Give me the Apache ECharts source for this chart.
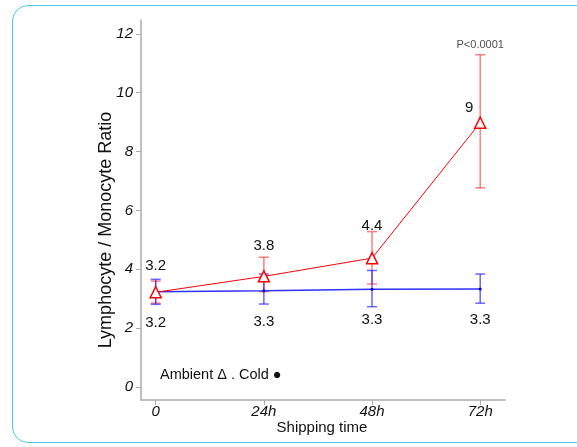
<!DOCTYPE html>
<html>
<head>
<meta charset="utf-8">
<script src="https://cdn.jsdelivr.net/npm/echarts@6/dist/echarts.min.js"></script>
<style>
html,body{margin:0;padding:0;background:#fff;}
#frame{position:absolute;left:12px;top:5px;width:580px;height:438px;border:1.5px solid #4fc6f2;border-radius:16px;box-sizing:border-box;}
#chart{position:absolute;left:0;top:0;width:577px;height:447px;}
</style>
</head>
<body>
<div id="frame"></div>
<div id="chart"></div>
<script>
// Data
const hours = [0, 24, 48, 72];
const xTickLabels = ['0', '24h', '48h', '72h'];
const yTicks = [0, 2, 4, 6, 8, 10, 12];
const ambientMean = [3.22, 3.76, 4.38, 8.98];
const ambientLow  = [2.85, 3.24, 3.50, 6.77];
const ambientHigh = [3.60, 4.41, 5.28, 11.29];
const ambientLabels = ['3.2', '3.8', '4.4', '9'];
const coldMean = [3.24, 3.27, 3.32, 3.33];
const coldLow  = [2.81, 2.82, 2.73, 2.85];
const coldHigh = [3.66, 3.84, 3.96, 3.84];
const coldLabels = ['3.2', '3.3', '3.3', '3.3'];
const pValueText = 'P<0.0001';

const FONT = '"Liberation Sans", Arial, sans-serif';

const ambientLabelOffsets = [[0, -8], [0, -12], [0, -14], [-11, 4]];

function errData(low, high) {
  return hours.map((h, i) => [h, low[i], high[i]]);
}
function errRender(color) {
  return function (params, api) {
    const x = api.value(0);
    const lo = api.coord([x, api.value(1)]);
    const hi = api.coord([x, api.value(2)]);
    const w = 5;
    const style = { stroke: color, lineWidth: 1.5, fill: null };
    return {
      type: 'group',
      children: [
        { type: 'line', shape: { x1: lo[0], y1: lo[1], x2: hi[0], y2: hi[1] }, style },
        { type: 'line', shape: { x1: lo[0] - w, y1: lo[1], x2: lo[0] + w, y2: lo[1] }, style },
        { type: 'line', shape: { x1: hi[0] - w, y1: hi[1], x2: hi[0] + w, y2: hi[1] }, style }
      ]
    };
  };
}

const chart = echarts.init(document.getElementById('chart'));
chart.setOption({
  animation: false,
  grid: { left: 141, right: 72, top: 20, bottom: 47 },
  xAxis: {
    type: 'value', min: -3.26, max: 77.5,
    axisLine: { show: true, onZero: false, lineStyle: { color: '#aaaaaa', width: 1.5 } },
    axisTick: { show: true, length: 5, lineStyle: { color: '#aaaaaa' }, customValues: hours },
    axisLabel: {
      customValues: hours, fontFamily: FONT, fontSize: 15, fontStyle: 'italic', color: '#111', margin: 4,
      formatter: v => xTickLabels[hours.indexOf(v)]
    },
    splitLine: { show: false }
  },
  yAxis: {
    type: 'value', min: -0.44, max: 12.47,
    axisLine: { show: true, onZero: false, lineStyle: { color: '#aaaaaa', width: 1.5 } },
    axisTick: { show: true, length: 5, lineStyle: { color: '#aaaaaa' }, customValues: yTicks },
    axisLabel: { customValues: yTicks, fontFamily: FONT, fontSize: 15, fontStyle: 'italic', color: '#111', margin: 8 },
    splitLine: { show: false }
  },
  graphic: [
    { type: 'text', x: 106, y: 230, rotation: Math.PI / 2,
      style: { text: 'Lymphocyte / Monocyte Ratio', font: '18px ' + FONT, fill: '#111', align: 'center', verticalAlign: 'middle' } },
    { type: 'text', x: 322, y: 428,
      style: { text: 'Shipping time', font: '15px ' + FONT, fill: '#111', align: 'center', verticalAlign: 'middle' } },
    { type: 'text', x: 160, y: 375,
      style: { text: 'Ambient \u0394 . Cold \u25CF', font: '14.5px ' + FONT, fill: '#111', align: 'left', verticalAlign: 'middle' } }
  ],
  series: [
    { type: 'custom', name: 'ambientErr', renderItem: errRender('rgba(255,40,40,0.6)'), data: errData(ambientLow, ambientHigh), z: 1 },
    { type: 'custom', name: 'coldErr', renderItem: errRender('rgba(40,40,255,0.7)'), data: errData(coldLow, coldHigh), z: 2 },
    {
      type: 'line', name: 'Cold', z: 3,
      data: hours.map((h, i) => ({
        value: [h, coldMean[i]],
        label: { show: true, formatter: coldLabels[i], position: 'bottom', distance: 22 }
      })),
      lineStyle: { color: '#3030ff', width: 1.5 },
      itemStyle: { color: '#0000cc' },
      symbol: 'circle', symbolSize: 3,
      label: { fontFamily: FONT, fontSize: 15, color: '#111' }
    },
    {
      type: 'line', name: 'Ambient', z: 4,
      data: hours.map((h, i) => ({
        value: [h, ambientMean[i]],
        label: { show: true, formatter: ambientLabels[i], position: 'top', offset: ambientLabelOffsets[i], distance: 5 }
      })),
      lineStyle: { color: '#ff0000', width: 1 },
      itemStyle: { color: '#ffffff', borderColor: '#ff0000', borderWidth: 1.5 },
      symbol: 'triangle', symbolSize: 11, showAllSymbol: true,
      label: { fontFamily: FONT, fontSize: 15, color: '#111' }
    },
    {
      type: 'scatter', name: 'pvalue', z: 5, symbolSize: 0, silent: true,
      data: [[72, 11.29]],
      label: { show: true, formatter: pValueText, position: 'top', distance: 4, fontFamily: FONT, fontSize: 11, color: '#222' }
    }
  ]
});
</script>
</body>
</html>
